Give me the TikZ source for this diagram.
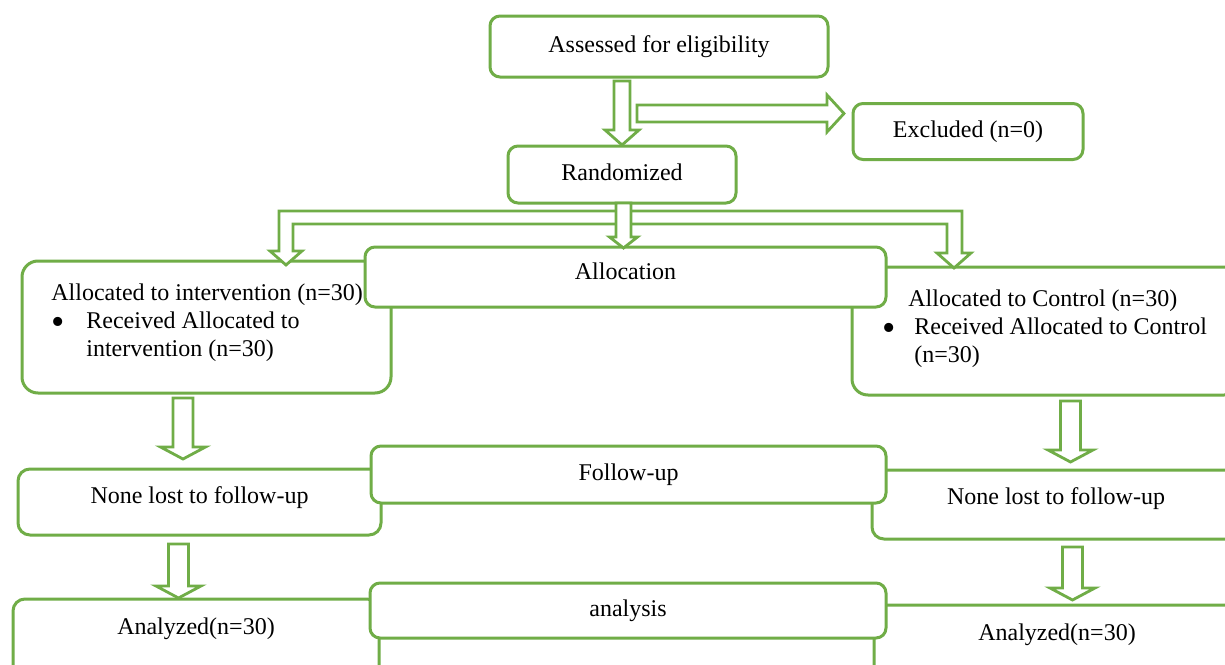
\documentclass[tikz,border=0pt]{standalone}
\usepackage{fontspec}
\setmainfont{Liberation Serif}
\usepackage{xcolor}
\usetikzlibrary{calc}
\definecolor{boxgreen}{RGB}{112, 173, 71}

\tikzset{
  box/.style={draw=boxgreen, line width=1.5pt, fill=white, rounded corners=5pt,
    inner sep=0pt, outer sep=0pt, align=center, font=\fontsize{12}{14}\selectfont,
    text height=8.5pt, text depth=2.5pt},
  bigbox/.style={box, rounded corners=8pt},
  txt/.style={inner sep=0pt, align=left, font=\fontsize{12}{14}\selectfont},
  blockarrow/.style={draw=boxgreen, line width=1.4pt, fill=white, line join=miter},
}

% big list bullet
\newcommand{\bigbul}{\raisebox{-3pt}{\fontsize{19}{14}\selectfont\textbullet}}

% hollow down arrow below a node: #1 node, #2 dx, #3 dy, #4 length (px)
\newcommand{\vblock}[4]{%
  \filldraw[blockarrow, shift={(#1.south)}]
    (#2-10,#3) -- (#2-10,#3+#4-12) -- (#2-22.5,#3+#4-12) -- (#2,#3+#4)
    -- (#2+22.5,#3+#4-12) -- (#2+10,#3+#4-12) -- (#2+10,#3) -- cycle;}

\begin{document}
\begin{tikzpicture}[x=0.5pt, y=-0.5pt]
    \useasboundingbox (0,0) rectangle (1225,664);
    \clip (0,0) rectangle (1225,664);
    \fill[white] (0,0) rectangle (1225,664);

    % --- TOP: enrolment ---
    \node[box, minimum width=169pt, minimum height=30.5pt] (assess) at (659,46.5) {Assessed for eligibility};
    \node[box, minimum width=115pt, minimum height=28pt] (excl) at (968,131.5) {Excluded (n=0)};
    \node[box, minimum width=114pt, minimum height=28.5pt] (rand) at (622,174.5) {Randomized};
    \filldraw[blockarrow, shift={(assess.south)}] (-45,4) -- (-45,53) -- (-54,53) -- (-37,68)
        -- (-20,53) -- (-29,53) -- (-29,4) -- cycle;
    \filldraw[blockarrow, shift={(excl.west)}] (-216,-26.5) -- (-26,-26.5) -- (-26,-36.5) -- (-9,-18)
        -- (-26,0.5) -- (-26,-9.5) -- (-216,-9.5) -- cycle;

    % --- ALLOCATION ---
    \node[bigbox, minimum width=184.5pt, minimum height=66pt] (lalloc) at (206.5,327) {};
    \node[bigbox, minimum width=194pt, minimum height=64pt] (ralloc) at (1046,331) {};
    \node[txt, anchor=west] (lallocTxt) at (51,323) {Allocated to intervention (n=30)\\
        \makebox[17.5pt][l]{\bigbul}Received Allocated to\\ \hspace*{17.5pt}intervention (n=30)};
    \node[txt, anchor=west] (rallocTxt) at (882,329) {\hspace*{13pt}Allocated to Control (n=30)\\
        \makebox[16pt][l]{\bigbul}Received Allocated to Control\\ \hspace*{16pt}(n=30)};
    \node[box, minimum width=260.5pt, minimum height=30pt, text depth=6.5pt] (alloc) at (625.5,277) {Allocation};
    \filldraw[blockarrow, shift={(rand.south)}] (-6,8) -- (-343,8) -- (-343,48) -- (-352,48) -- (-336,62)
        -- (-320,48) -- (-329,48) -- (-329,21) -- (-6,21);
    \filldraw[blockarrow, shift={(rand.south)}] (9,8) -- (340,8) -- (340,50) -- (349,50) -- (332,65)
        -- (315,50) -- (325,50) -- (325,21) -- (9,21);
    \filldraw[blockarrow, shift={(rand.south)}] (-6,0) -- (-6,34) -- (-12.5,34) -- (1.5,45)
        -- (15.5,34) -- (9,34) -- (9,0) -- cycle;

    % --- FOLLOW-UP ---
    \node[box, rounded corners=6pt, minimum width=181.5pt, minimum height=33pt, text depth=7.5pt] (lnone) at (199.5,502) {None lost to follow-up};
    \node[box, rounded corners=6pt, minimum width=184pt, minimum height=34.5pt, text depth=9pt] (rnone) at (1056,504.5) {None lost to follow-up};
    \node[box, minimum width=257.5pt, minimum height=28.5pt] (follow) at (628.5,474.5) {Follow-up};
    \vblock{lalloc}{-23.5}{5}{61}
    \vblock{ralloc}{24.5}{6}{61}

    % --- ANALYSIS ---
    \node[box, rounded corners=6pt, minimum width=183pt, minimum height=60pt, text depth=33.5pt] (lana) at (196,659) {Analyzed(n=30)};
    \node[box, rounded corners=6pt, minimum width=183pt, minimum height=60pt, text depth=33.5pt] (rana) at (1057,665) {Analyzed(n=30)};
    \node[box, minimum width=258pt, minimum height=27.5pt] (analysis) at (628,610.5) {analysis};
    \vblock{lnone}{-21}{9}{54}
    \vblock{rnone}{16.5}{8}{53}
\end{tikzpicture}
\end{document}
